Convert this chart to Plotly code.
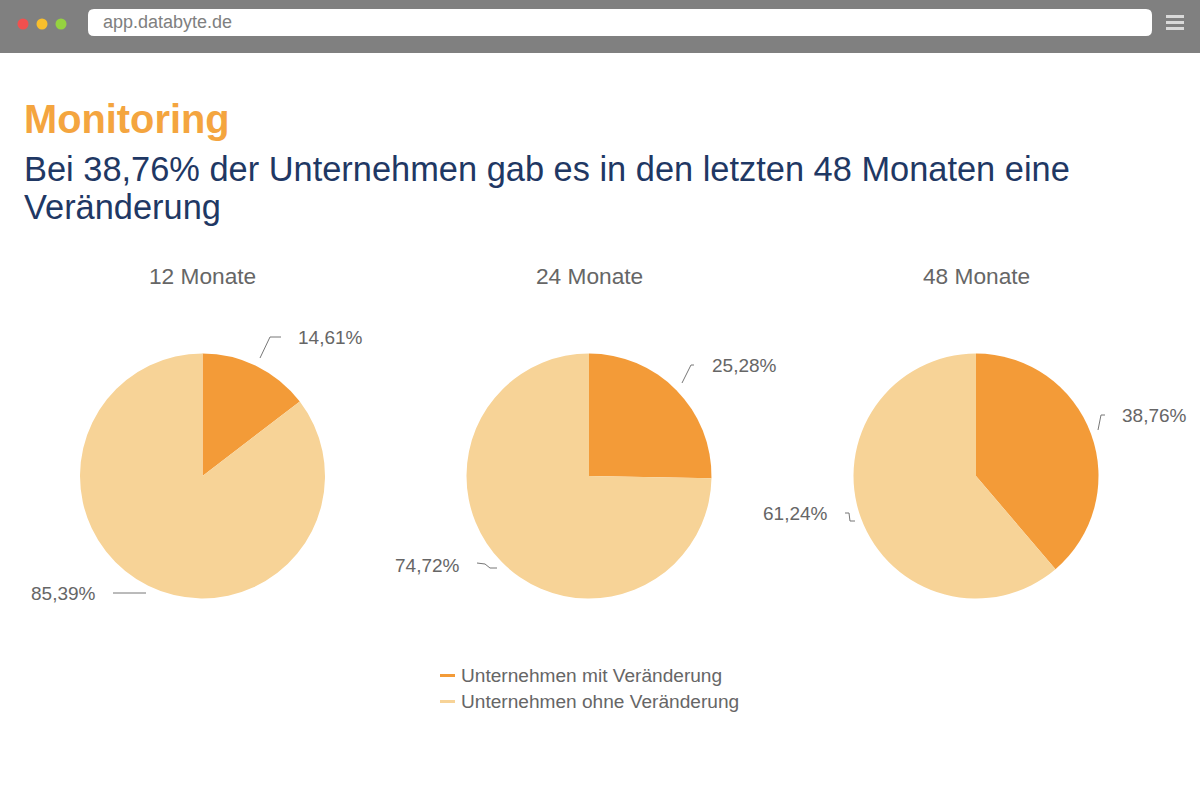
import plotly.graph_objects as go

W = 1200
H = 800
FONT = "Liberation Sans"

periods = ["12 Monate", "24 Monate", "48 Monate"]
series_names = ["Unternehmen mit Veränderung", "Unternehmen ohne Veränderung"]
with_change = [14.61, 25.28, 38.76]
without_change = [85.39, 74.72, 61.24]
colors = ["#F39B38", "#F7D397"]

title_text = "Monitoring"
subtitle_lines = ["Bei 38,76% der Unternehmen gab es in den letzten 48 Monaten eine", "Veränderung"]
url_text = "app.databyte.de"


def px_x(x):
    return x / W


def px_y(y):
    return 1 - y / H


def fmt(v):
    return f"{v:.2f}".replace(".", ",") + "%"


def text(x, y, s, size, color, anchor="left", bold=False):
    if bold:
        s = "<b>" + s + "</b>"
    return dict(x=px_x(x), y=px_y(y), xref="paper", yref="paper", text=s, showarrow=False,
                xanchor=anchor, yanchor="middle", font=dict(family=FONT, size=size, color=color))


def rect(x0, y0, x1, y1, color):
    return dict(type="rect", xref="paper", yref="paper", x0=px_x(x0), x1=px_x(x1), y0=px_y(y0), y1=px_y(y1),
                fillcolor=color, line=dict(width=0), layer="below")


def circle(cx, cy, r, color):
    return dict(type="circle", xref="paper", yref="paper", x0=px_x(cx - r), x1=px_x(cx + r),
                y0=px_y(cy - r), y1=px_y(cy + r), fillcolor=color, line=dict(width=0))


def polyline(points, color="#777777", width=1):
    d = ""
    for i, (x, y) in enumerate(points):
        d += ("M" if i == 0 else "L") + f" {px_x(x):.5f} {px_y(y):.5f} "
    return dict(type="path", xref="paper", yref="paper", path=d, line=dict(color=color, width=width))


def rounded_bar(x0, y0, x1, y1, r, color):
    # path in paper units, corners are plain quadratic curves
    rx = r / W
    ry = r / H
    a, b, c, d = px_x(x0), px_x(x1), px_y(y0), px_y(y1)
    path = (f"M {a + rx} {c} L {b - rx} {c} Q {b} {c} {b} {c - ry} L {b} {d + ry} Q {b} {d} {b - rx} {d} "
            f"L {a + rx} {d} Q {a} {d} {a} {d + ry} L {a} {c - ry} Q {a} {c} {a + rx} {c} Z")
    return dict(type="path", xref="paper", yref="paper", path=path, fillcolor=color, line=dict(width=0))


fig = go.Figure()

# pie centres in px
centers = [202.5, 589, 976]
radius = 122.5
center_y = 476

for i, name in enumerate(periods):
    cx = centers[i]
    fig.add_trace(go.Pie(
        labels=series_names,
        values=[with_change[i], without_change[i]],
        sort=False,
        direction="clockwise",
        rotation=0,
        textinfo="none",
        hoverinfo="label+percent",
        showlegend=False,
        marker=dict(colors=colors, line=dict(width=0)),
        domain=dict(x=[px_x(cx - radius), px_x(cx + radius)],
                    y=[px_y(center_y + radius), px_y(center_y - radius)]),
    ))

annotations = [
    text(101, 22.5, url_text, 18, "#808080"),
    text(22, 119, title_text, 39.8, "#F4A53F", bold=True),
    text(21.5, 169, subtitle_lines[0], 34.4, "#1F3864"),
    text(21.5, 207, subtitle_lines[1], 34.4, "#1F3864"),
]

for i, name in enumerate(periods):
    annotations.append(text(centers[i], 275.5, name, 22.7, "#666666", anchor="center"))

# value labels (left edge / right edge)
annotations.append(text(295.5, 337, fmt(with_change[0]), 19, "#666666"))
annotations.append(text(97.5, 593, fmt(without_change[0]), 19, "#666666", anchor="right"))
annotations.append(text(709.5, 365, fmt(with_change[1]), 19, "#666666"))
annotations.append(text(461.5, 565, fmt(without_change[1]), 19, "#666666", anchor="right"))
annotations.append(text(1119.5, 415, fmt(with_change[2]), 19, "#666666"))
annotations.append(text(829.5, 513, fmt(without_change[2]), 19, "#666666", anchor="right"))

# legend
annotations.append(text(458.5, 675.5, series_names[0], 19.1, "#666666"))
annotations.append(text(458.5, 701.5, series_names[1], 19.1, "#666666"))

shapes = [
    rect(0, 0, 1200, 53, "#808080"),
    rounded_bar(88, 9, 1152, 36, 6, "#FFFFFF"),
    circle(23, 24, 5.5, "#F0504F"),
    circle(42, 24, 5.5, "#F8BF2C"),
    circle(61, 24, 5.5, "#95D240"),
    rect(1166, 15, 1184, 18, "#D9D9D9"),
    rect(1166, 21, 1184, 24, "#D9D9D9"),
    rect(1166, 27, 1184, 30, "#D9D9D9"),
    rect(440, 674, 455, 677, colors[0]),
    rect(440, 700, 455, 703, colors[1]),
    polyline([(260, 358), (270, 337), (281, 337)]),
    polyline([(113, 593), (146, 593)]),
    polyline([(477, 563), (485, 564), (490, 568), (497, 568)]),
    polyline([(682, 383), (691, 365), (694, 365)]),
    polyline([(845, 513), (849, 513), (850, 521), (855, 521)]),
    polyline([(1098, 430), (1101, 415), (1105, 415)]),
]

fig.update_layout(
    width=W,
    height=H,
    margin=dict(l=0, r=0, t=0, b=0),
    paper_bgcolor="#FFFFFF",
    plot_bgcolor="#FFFFFF",
    annotations=annotations,
    shapes=shapes,
)

fig.write_html("out.html", post_script="document.body.style.margin='0';", config=dict(displayModeBar=False))
